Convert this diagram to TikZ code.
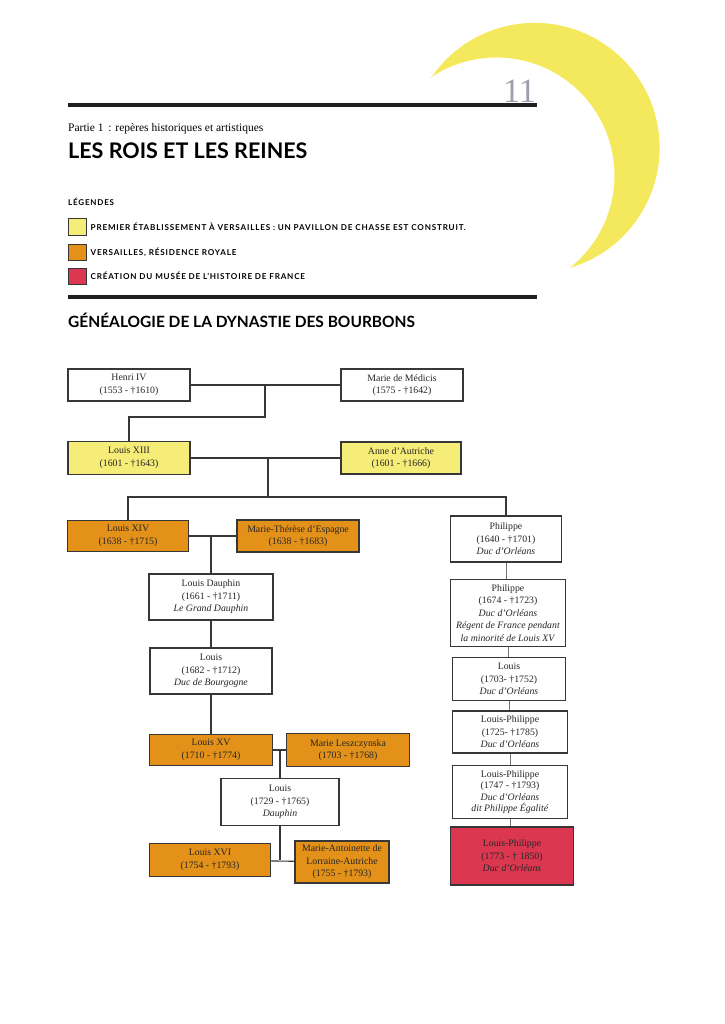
\documentclass[tikz,border=0pt]{standalone}
\usepackage{fontspec}
\setmainfont{Liberation Serif}
\newfontfamily\headfont{Lato}
\newfontfamily\legfont[LetterSpace=10]{Lato}
\usetikzlibrary{positioning}
\definecolor{crescent}{RGB}{244,232,92}
\definecolor{firstyellow}{RGB}{246,236,120}
\definecolor{royalorange}{RGB}{227,145,24}
\definecolor{museumred}{RGB}{219,55,80}
\definecolor{boxline}{RGB}{55,55,55}
\definecolor{pagegray}{RGB}{158,158,172}
\tikzset{
  % page
  rule/.style      ={line width=4pt, black!88},
  % boxes
  person/.style    ={draw=boxline, line width=1.1pt, fill=white, align=center,
                     inner sep=1pt, text=black!85, font=\fontsize{9.8}{12.5}\selectfont},
  size/.style 2 args={minimum width=#1, minimum height=#2},
  legbox/.style    ={draw=boxline, line width=1pt, minimum width=18, minimum height=16, inner sep=0},
  legtext/.style   ={font=\legfont\bfseries\fontsize{8.1}{9}\selectfont, inner sep=0, anchor=west},
  % connectors
  conn/.style      ={draw=boxline, line width=1.1pt},
  thinconn/.style  ={draw=boxline!70, line width=0.8pt}
}
\begin{document}
\begin{tikzpicture}[x=1pt,y=-1pt]
  \useasboundingbox (0,0) rectangle (724,1024);
  % crescent
  \fill[crescent] (431,78) arc[start angle=-146, end angle=73.6, radius=125]
                  arc[start angle=51.5, end angle=-124.3, radius=118] -- cycle;
  % header
  \node[anchor=base east, inner sep=0, text=pagegray, font=\fontsize{34}{34}\selectfont] (pagenum) at (536,103) {11};
  \draw[rule] (68,105) -- (537,105);
  \node[anchor=base west, inner sep=0, font=\fontsize{11.5}{13}\selectfont] (part) at (68,132) {Partie 1 \,: repères historiques et artistiques};
  \node[anchor=base west, inner sep=0, font=\headfont\bfseries\fontsize{21.5}{24}\selectfont] (title) at (68,159) {LES ROIS ET LES REINES};
  \node[anchor=base west, inner sep=0, font=\legfont\bfseries\fontsize{8}{9}\selectfont] (legtitle) at (68,206) {LÉGENDES};
  % legend
  \node[legbox, fill=firstyellow] (legyellow) at (77,227) {};
  \node[legbox, fill=royalorange] (legorange) at (77,252) {};
  \node[legbox, fill=museumred]   (legred)    at (77,276) {};
  \node[legtext, right=4pt of legyellow] (txtyellow) {PREMIER ÉTABLISSEMENT À VERSAILLES : UN PAVILLON DE CHASSE EST CONSTRUIT.};
  \node[legtext, right=4pt of legorange] (txtorange) {VERSAILLES, RÉSIDENCE ROYALE};
  \node[legtext, right=4pt of legred]    (txtred)    {CRÉATION DU MUSÉE DE L’HISTOIRE DE FRANCE};
  \draw[rule] (68,297) -- (537,297);
  \node[anchor=base west, inner sep=0, font=\headfont\bfseries\fontsize{15.5}{18}\selectfont] (subtitle) at (68,327) {GÉNÉALOGIE DE LA DYNASTIE DES BOURBONS};
  % tree, left part
  \node[person, size={122}{32}] (henri) at (129,385) {Henri IV\\(1553 - †1610)};
  \node[person, size={122}{32}] (mmedicis) at (402,385) {Marie de Médicis\\(1575 - †1642)};
  \node[person, size={122}{33}, fill=firstyellow] (louis13) at (129,458) {Louis XIII\\(1601 - †1643)};
  \node[person, size={120}{32}, fill=firstyellow] (anne) at (401,458) {Anne d’Autriche\\(1601 - †1666)};
  \node[person, size={121}{31}, fill=royalorange] (louis14) at (128,536) {Louis XIV\\(1638 - †1715)};
  \node[person, size={122}{32}, fill=royalorange] (mtherese) at (298,536) {Marie-Thérèse d’Espagne\\(1638 - †1683)};
  \node[person, size={124}{46}] (gdauphin) at (211,597) {Louis Dauphin\\(1661 - †1711)\\\textit{Le Grand Dauphin}};
  \node[person, size={122}{46}] (bourgogne) at (211,671) {Louis\\(1682 - †1712)\\\textit{Duc de Bourgogne}};
  \node[person, size={123}{31}, fill=royalorange] (louis15) at (211,750) {Louis XV\\(1710 - †1774)};
  \node[person, size={123}{33}, fill=royalorange] (leszczynska) at (348,750) {Marie Leszczynska\\(1703 - †1768)};
  \node[person, size={118}{47}] (dauphin) at (280,802) {Louis\\(1729 - †1765)\\\textit{Dauphin}};
  \node[person, size={121}{33}, fill=royalorange] (louis16) at (210,860) {Louis XVI\\(1754 - †1793)};
  \node[person, size={94}{42}, fill=royalorange] (mantoinette) at (342,862) {Marie-Antoinette de\\Lorraine-Autriche\\(1755 - †1793)};
  % tree, Orléans
  \node[person, size={111}{46}] (philippe1) at (506,539) {Philippe\\(1640 - †1701)\\\textit{Duc d’Orléans}};
  \node[person, size={115}{67}] (philippe2) at (508,613) {Philippe\\(1674 - †1723)\\\textit{Duc d’Orléans}\\\textit{Régent de France pendant}\\\textit{la minorité de Louis XV}};
  \node[person, size={113}{43}] (louis3) at (509,679) {Louis\\(1703- †1752)\\\textit{Duc d’Orléans}};
  \node[person, size={115}{42}] (lphilippe4) at (510,732) {Louis-Philippe\\(1725- †1785)\\\textit{Duc d’Orléans}};
  \node[person, size={115}{53}, font=\fontsize{9.8}{11.5}\selectfont] (lphilippe5) at (510,792) {Louis-Philippe\\(1747 - †1793)\\\textit{Duc d’Orléans}\\\textit{dit Philippe Égalité}};
  \node[person, size={123}{58}, fill=museumred] (lphilippe6) at (512,856) {Louis-Philippe\\(1773 - † 1850)\\\textit{Duc d’Orléans}};
  % connectors
  \coordinate (hm) at (265,385);
  \coordinate (la) at (268,458);
  \coordinate (lm) at (211,536);
  \coordinate (lx) at (280,750);
  \coordinate (lxm) at (280,860);
  \draw[conn] (henri) -- (mmedicis);
  \draw[conn] (hm) -- ++(0,32) -| (louis13);
  \draw[conn] (louis13) -- (anne);
  \draw[conn] (la) -- ++(0,39) coordinate (sib);
  \draw[conn] (louis14) |- (sib) -| (philippe1);
  \draw[conn] (louis14) -- (mtherese);
  \draw[conn] (lm) -- (gdauphin);
  \draw[conn] (gdauphin) -- (bourgogne);
  \draw[conn] (bourgogne) -- (louis15);
  \draw[conn] (louis15) -- (leszczynska);
  \draw[conn] (lx) -- (dauphin);
  \draw[conn] (dauphin) -- (lxm);
  \draw[conn] (louis16) -- (mantoinette);
  \foreach \a/\b in {philippe1/philippe2, philippe2/louis3, louis3/lphilippe4,
                     lphilippe4/lphilippe5, lphilippe5/lphilippe6}
    \draw[thinconn] (\a.south) -- (\a.south |- \b.north);
\end{tikzpicture}
\end{document}
